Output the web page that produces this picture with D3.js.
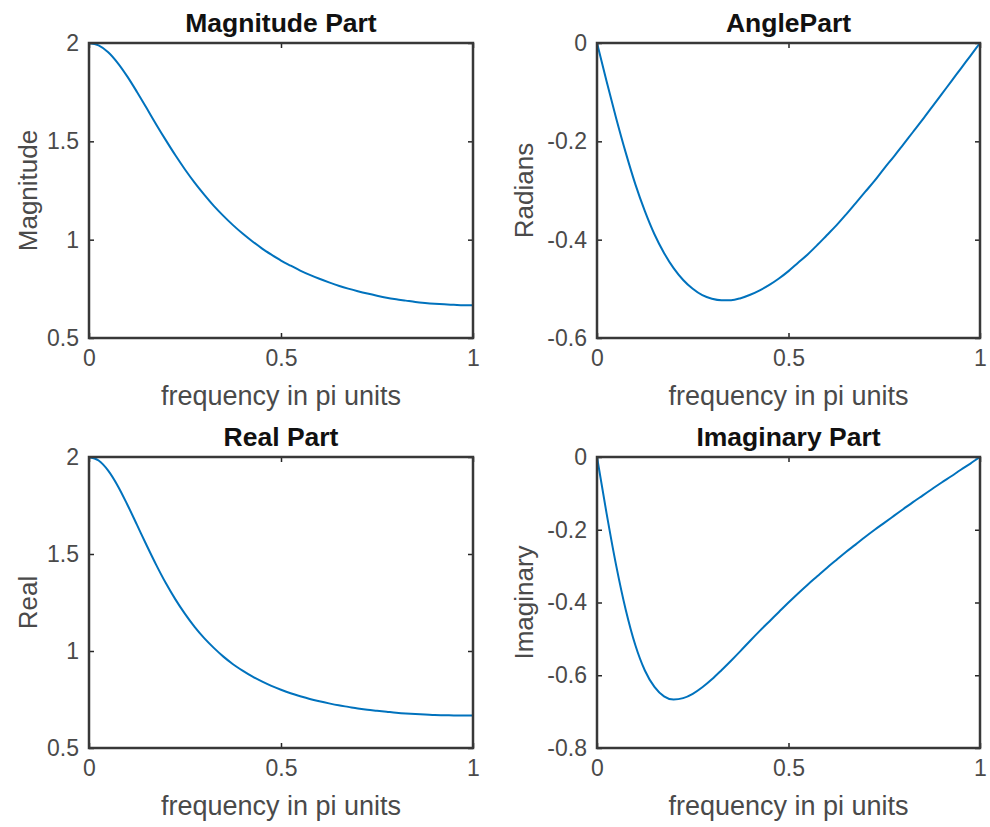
<!DOCTYPE html>
<html>
<head>
<meta charset="utf-8">
<script src="https://cdn.jsdelivr.net/npm/d3@7"></script>
<style>
  body { margin: 0; background: #fff; }
  svg text { font-family: "Liberation Sans", Arial, sans-serif; }
</style>
</head>
<body>
<div id="wrapper"></div>
<script>
// frequency samples (in pi units)
const freq = [0, 0.025, 0.05, 0.075, 0.1, 0.125, 0.15, 0.175, 0.2, 0.225, 0.25, 0.275, 0.3, 0.325, 0.35, 0.375, 0.4,
  0.425, 0.45, 0.475, 0.5, 0.525, 0.55, 0.575, 0.6, 0.625, 0.65, 0.675, 0.7, 0.725, 0.75, 0.775, 0.8, 0.825, 0.85,
  0.875, 0.9, 0.925, 0.95, 0.975, 1]

const magnitude = [2, 1.988, 1.953, 1.898, 1.829, 1.751, 1.669, 1.586, 1.506, 1.429, 1.357, 1.290, 1.229, 1.172, 1.121,
  1.074, 1.031, 0.992, 0.956, 0.924, 0.894, 0.868, 0.843, 0.821, 0.801, 0.783, 0.766, 0.751, 0.738, 0.726, 0.715,
  0.705, 0.697, 0.690, 0.683, 0.678, 0.674, 0.671, 0.669, 0.667, 0.667]

const angle = [0, -0.078, -0.153, -0.223, -0.287, -0.342, -0.389, -0.427, -0.458, -0.482, -0.500, -0.513, -0.520, -0.523,
  -0.523, -0.519, -0.512, -0.503, -0.492, -0.479, -0.464, -0.447, -0.430, -0.411, -0.391, -0.371, -0.349, -0.326,
  -0.303, -0.280, -0.255, -0.231, -0.206, -0.181, -0.156, -0.130, -0.104, -0.078, -0.052, -0.026, 0]

const realPart = [2, 1.982, 1.930, 1.851, 1.754, 1.650, 1.545, 1.444, 1.350, 1.266, 1.191, 1.124, 1.066, 1.016, 0.971,
  0.932, 0.899, 0.869, 0.843, 0.820, 0.800, 0.782, 0.767, 0.753, 0.741, 0.730, 0.720, 0.712, 0.704, 0.697, 0.692,
  0.687, 0.682, 0.678, 0.675, 0.673, 0.670, 0.669, 0.668, 0.667, 0.667]

const imagPart = [0, -0.155, -0.298, -0.420, -0.517, -0.587, -0.632, -0.658, -0.667, -0.663, -0.651, -0.633, -0.611,
  -0.586, -0.560, -0.533, -0.505, -0.478, -0.452, -0.426, -0.400, -0.375, -0.351, -0.328, -0.305, -0.283, -0.261,
  -0.241, -0.220, -0.200, -0.181, -0.162, -0.143, -0.124, -0.106, -0.088, -0.070, -0.053, -0.035, -0.018, 0]

const xTicks = [0, 0.5, 1]
const magTicks = [0.5, 1, 1.5, 2]
const angleTicks = [-0.6, -0.4, -0.2, 0]
const realTicks = [0.5, 1, 1.5, 2]
const imagTicks = [-0.8, -0.6, -0.4, -0.2, 0]

const panels = [
  { title: "Magnitude Part", ylabel: "Magnitude", values: magnitude, ydom: [0.5, 2], yticks: magTicks,
    left: 89, right: 473, top: 43, bottom: 338 },
  { title: "AnglePart", ylabel: "Radians", values: angle, ydom: [-0.6, 0], yticks: angleTicks,
    left: 597, right: 980, top: 43, bottom: 338 },
  { title: "Real Part", ylabel: "Real", values: realPart, ydom: [0.5, 2], yticks: realTicks,
    left: 89, right: 473, top: 457, bottom: 748 },
  { title: "Imaginary Part", ylabel: "Imaginary", values: imagPart, ydom: [-0.8, 0], yticks: imagTicks,
    left: 597, right: 980, top: 457, bottom: 748 },
]

const svg = d3.select("#wrapper")
  .append("svg")
  .attr("width", 990)
  .attr("height", 827)

const tickColor = "#4a4a4a"

panels.forEach(p => {
  const x = d3.scaleLinear().domain([0, 1]).range([p.left, p.right])
  const y = d3.scaleLinear().domain(p.ydom).range([p.bottom, p.top])
  const g = svg.append("g")

  const fmt = d => String(d)

  // bottom axis with labels
  const xb = g.append("g")
    .attr("transform", `translate(0,${p.bottom})`)
    .call(d3.axisBottom(x).tickValues(xTicks).tickFormat(fmt).tickSizeInner(-5).tickSizeOuter(0).tickPadding(12))
  // left axis with labels
  const yl = g.append("g")
    .attr("transform", `translate(${p.left},0)`)
    .call(d3.axisLeft(y).tickValues(p.yticks).tickFormat(fmt).tickSizeInner(-5).tickSizeOuter(0).tickPadding(10))
  // top and right ticks, no labels
  const xt = g.append("g")
    .attr("transform", `translate(0,${p.top})`)
    .call(d3.axisTop(x).tickValues(xTicks).tickFormat("").tickSizeInner(-5).tickSizeOuter(0))
  const yr = g.append("g")
    .attr("transform", `translate(${p.right},0)`)
    .call(d3.axisRight(y).tickValues(p.yticks).tickFormat("").tickSizeInner(-5).tickSizeOuter(0))

  ;[xb, yl, xt, yr].forEach(a => {
    a.select(".domain").remove()
    a.selectAll(".tick line").attr("stroke", "#262626").attr("stroke-width", 1.5)
    a.selectAll(".tick text")
      .attr("fill", tickColor)
      .attr("font-size", "23px")
      .attr("font-family", "'Liberation Sans', Arial, sans-serif")
  })
  xb.selectAll(".tick text").attr("dy", "0.71em")

  // data line
  const line = d3.line()
    .x((d, i) => x(freq[i]))
    .y(d => y(d))
    .curve(d3.curveMonotoneX)

  g.append("path")
    .datum(p.values)
    .attr("d", line)
    .attr("fill", "none")
    .attr("stroke", "#0072BD")
    .attr("stroke-width", 2)

  // box
  g.append("rect")
    .attr("x", p.left)
    .attr("y", p.top)
    .attr("width", p.right - p.left)
    .attr("height", p.bottom - p.top)
    .attr("fill", "none")
    .attr("stroke", "#383838")
    .attr("stroke-width", 2.5)

  const cx = (p.left + p.right) / 2
  g.append("text")
    .attr("x", cx)
    .attr("y", p.top - 11)
    .text(p.title)
    .attr("fill", "#111")
    .attr("font-size", "26.5px")
    .attr("font-weight", "bold")
    .attr("text-anchor", "middle")

  g.append("text")
    .attr("x", cx)
    .attr("y", p.bottom + 67)
    .text("frequency in pi units")
    .attr("fill", tickColor)
    .attr("font-size", "27px")
    .attr("text-anchor", "middle")

  const yLabelX = p.left === 89 ? 37 : 533
  g.append("text")
    .attr("transform", `translate(${yLabelX},${(p.top + p.bottom) / 2}) rotate(-90)`)
    .text(p.ylabel)
    .attr("fill", tickColor)
    .attr("font-size", "26px")
    .attr("text-anchor", "middle")
})
</script>
</body>
</html>
